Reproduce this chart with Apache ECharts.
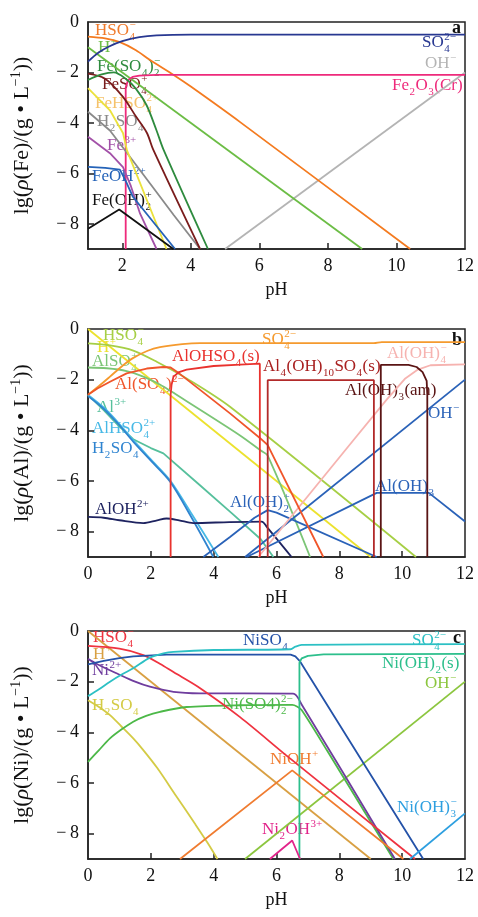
<!DOCTYPE html>
<html>
<head>
<meta charset="UTF-8">
<script src="https://cdn.jsdelivr.net/npm/echarts@6.0.0/dist/echarts.min.js"></script>
<style>
  html, body { margin: 0; background: #fff; }
  #chart { width: 478px; height: 917px; }
</style>
</head>
<body>
<div id="chart"></div>
<script>
// ---- panel a : Fe ----
const aSO4 = [[1,-1.57],[1.3,-1.22],[1.6,-0.98],[2,-0.76],[2.5,-0.6],[3,-0.53],[4,-0.5],[12,-0.5]];
const aHSO4 = [[1,-0.58],[1.5,-0.65],[1.93,-0.8],[2.4,-1.12],[2.8,-1.5],[3.5,-2.1],[4,-2.56],[5.43,-3.96],[10.4,-9]];
const aH = [[1,-1],[9,-9]];
const aOH = [[5,-9],[12,-2]];
const aFe2O3 = [[2.1,-9],[2.1,-2.6],[2.17,-2.3],[2.3,-2.18],[2.5,-2.13],[3,-2.1],[12,-2.1]];
const aFeSO42 = [[1,-2.3],[1.4,-2.08],[1.75,-2.0],[2.1,-2.25],[2.4,-2.65],[2.71,-3.3],[3.0,-4.3],[3.2,-5.05],[4.5,-9]];
const aFeSO4 = [[1,-2.05],[1.5,-2.25],[2.02,-2.97],[2.4,-3.75],[2.72,-4.4],[2.9,-5.05],[4.27,-9]];
const aFeHSO4 = [[1,-2.62],[1.64,-3.5],[2.02,-4.4],[2.14,-5.1],[3.29,-9]];
const aH2SO4 = [[1,-3.56],[1.64,-4.3],[2.2,-5.3],[2.81,-6.4],[3.5,-7.65],[4.27,-9]];
const aFe3 = [[1,-4.55],[1.64,-5.2],[2.02,-5.75],[2.25,-6.5],[2.52,-7.6],[3.0,-9]];
const aFeOH = [[1,-5.74],[1.5,-5.78],[1.93,-5.85],[2.1,-6.3],[2.31,-6.93],[3.54,-9]];
const aFeOH2 = [[1,-8.2],[1.91,-7.43],[3.49,-9]];

// ---- panel b : Al ----
const bSO4 = [[0,-2.6],[0.35,-2.25],[0.7,-1.88],[1.1,-1.45],[1.43,-1.15],[1.9,-0.86],[2.29,-0.72],[3,-0.6],[3.57,-0.56],[9.1,-0.56],[9.35,-0.52],[12,-0.52]];
const bHSO4 = [[0,-0.57],[0.7,-0.65],[1.44,-0.85],[2.2,-1.3],[3.14,-1.95],[4.52,-3.07],[10.44,-9]];
const bH = [[0,0],[9,-9]];
const bAlSO4 = [[0,-1.52],[0.6,-1.55],[1.23,-1.66],[1.8,-1.9],[2.3,-2.2],[2.63,-2.45],[4.84,-4.2],[5.5,-4.8],[5.72,-5.0],[7.07,-9]];
const bAlSO42 = [[0,-2.6],[0.3,-2.35],[0.7,-2.08],[1.23,-1.75],[1.87,-1.56],[2.4,-1.5],[2.63,-1.52],[2.9,-1.75],[4.52,-3.33],[5.47,-4.3],[5.72,-4.58],[7.49,-9]];
const bAlOHSO4s = [[2.63,-9],[2.63,-2.6],[2.66,-2.2],[2.72,-1.88],[2.9,-1.7],[3.14,-1.6],[4.0,-1.46],[4.84,-1.41],[5.47,-1.37],[5.47,-9]];
const bAl4s = [[5.72,-9],[5.72,-2.02],[9.1,-2.02],[9.1,-9]];
const bAlOH3am = [[9.32,-9],[9.32,-1.42],[10.2,-1.42],[10.46,-1.5],[10.65,-1.7],[10.78,-2.05],[10.8,-2.6],[10.8,-9]];
const bAlOH4 = [[5.42,-9],[8.44,-4.4],[9.5,-2.8],[10.1,-1.95],[10.5,-1.6],[10.9,-1.43],[12,-1.4]];
const bOH = [[5,-9],[12,-2]];
const bAlOH3 = [[5.05,-9],[9.19,-6.47],[10.85,-6.47],[12,-7.6]];
const bAlOH2 = [[3.67,-9],[4.52,-8.21],[5.3,-7.45],[5.72,-7.15],[6.0,-7.25],[9.19,-9]];
const bAlOH = [[0,-7.42],[0.5,-7.45],[1.0,-7.55],[1.76,-7.66],[2.2,-7.55],[2.5,-7.48],[2.9,-7.55],[3.35,-7.66],[4.5,-7.62],[5.53,-7.6],[5.69,-7.81],[6.48,-9]];
const bAl3 = [[0,-2.6],[0.5,-3.2],[1.0,-3.85],[1.44,-4.35],[2.0,-4.7],[2.4,-4.91],[3.5,-6.1],[4.6,-7.3],[5.5,-8.3],[5.9,-9]];
const bAlHSO4 = [[0,-2.6],[0.5,-3.1],[1.0,-3.75],[1.44,-4.39],[2.0,-5.15],[2.61,-5.97],[3.3,-7.3],[4.15,-9]];
const bH2SO4 = [[0,-2.65],[0.5,-3.15],[1.0,-3.8],[1.44,-4.45],[2.0,-5.2],[2.61,-6.02],[3.3,-7.45],[3.99,-9]];

// ---- panel c : Ni ----
const cHSO4 = [[0,-0.59],[1,-0.7],[1.76,-0.95],[2.3,-1.3],[2.72,-1.62],[3.5,-2.2],[4.84,-3.4],[6.4,-5.0],[10.41,-9]];
const cH = [[0,0],[9,-9]];
const cNi = [[0,-1.1],[0.28,-1.3],[0.91,-1.67],[1.5,-2.0],[1.97,-2.2],[2.72,-2.4],[3.57,-2.46],[6.53,-2.47],[6.8,-2.9],[9.77,-9]];
const cNiSO4 = [[0,-1.32],[0.5,-1.18],[1.0,-1.07],[1.44,-1.0],[2.5,-0.93],[6.45,-0.93],[6.6,-1.0],[6.75,-1.2],[10.67,-9]];
const cSO4 = [[0,-2.57],[0.35,-2.3],[0.7,-2.0],[1.1,-1.7],[1.44,-1.47],[1.97,-1.05],[2.4,-0.88],[2.72,-0.82],[4,-0.75],[6.45,-0.72],[6.6,-0.62],[6.8,-0.55],[12,-0.52]];
const cNiOH2s = [[6.73,-9],[6.73,-1.25],[6.8,-1.08],[7.0,-0.98],[7.5,-0.92],[12,-0.9]];
const cNiSO42 = [[0,-5.17],[0.35,-4.7],[0.7,-4.24],[1.05,-3.9],[1.44,-3.58],[1.85,-3.35],[2.29,-3.19],[3.14,-3.0],[4.84,-2.93],[6.5,-2.92],[6.65,-2.98],[6.8,-3.12],[7.6,-4.7],[9.72,-9]];
const cH2SO4 = [[0,-2.73],[0.35,-3.0],[0.7,-3.32],[1.05,-3.75],[1.44,-4.24],[1.76,-4.7],[2.2,-5.4],[2.8,-6.5],[3.4,-7.6],[3.8,-8.35],[4.12,-9]];
const cOH = [[5,-9],[12,-2]];
const cNiOH = [[2.93,-9],[6.5,-5.5],[10.04,-9]];
const cNi2OH = [[5.79,-9],[6.5,-8.27],[6.75,-9]];
const cNiOH3 = [[10.25,-9],[12,-7.2]];

const xLabelsA = [2, 4, 6, 8, 10, 12];
const xLabelsBC = [0, 2, 4, 6, 8, 10, 12];
const xTicks = [2, 4, 6, 8, 10];
const yLabels = [-8, -6, -4, -2, 0];
const yTicks = [-8, -6, -4, -2];

const FONT = '"Liberation Serif", "DejaVu Serif", serif';

// [grid, data, colour, smooth]
const lines = [
  [0, aOH, '#b4b4b4', false],
  [0, aH, '#6cbd45', false],
  [0, aHSO4, '#f47b20', true],
  [0, aSO4, '#283891', true],
  [0, aFe2O3, '#ee2a7b', false],
  [0, aH2SO4, '#8a8a8a', false],
  [0, aFeHSO4, '#ebe23c', false],
  [0, aFeSO4, '#7a1c1c', true],
  [0, aFeSO42, '#2e8b3e', true],
  [0, aFe3, '#a351a8', false],
  [0, aFeOH, '#2563b8', false],
  [0, aFeOH2, '#111111', false],

  [1, bH, '#ece22e', false],
  [1, bHSO4, '#a6cf45', true],
  [1, bAlSO4, '#7cc576', true],
  [1, bAl3, '#56c09c', false],
  [1, bAlHSO4, '#47b9e6', true],
  [1, bH2SO4, '#2f84d0', true],
  [1, bAlOH, '#1e2360', true],
  [1, bOH, '#2a62b8', false],
  [1, bAlOH3, '#2a62b8', false],
  [1, bAlOH2, '#2a62b8', false],
  [1, bAlOH4, '#f6b3b0', false],
  [1, bSO4, '#f59a2e', true],
  [1, bAlSO42, '#f0552a', false],
  [1, bAlOHSO4s, '#e9322e', false],
  [1, bAl4s, '#b22a2a', false],
  [1, bAlOH3am, '#5a1414', false],

  [2, cH, '#d9a043', false],
  [2, cOH, '#8cc63f', false],
  [2, cH2SO4, '#d4cb45', true],
  [2, cNiSO42, '#4cb848', true],
  [2, cNi, '#6f3d9e', true],
  [2, cHSO4, '#ef3340', true],
  [2, cNiSO4, '#2452a8', false],
  [2, cSO4, '#2cc0c4', true],
  [2, cNiOH2s, '#2dbf8c', false],
  [2, cNiOH, '#f07c30', false],
  [2, cNi2OH, '#e2248a', false],
  [2, cNiOH3, '#2d9fe0', false]
];

const grids = [
  { left: 88, top: 22, width: 377, height: 227 },
  { left: 88, top: 329, width: 377, height: 228 },
  { left: 88, top: 631, width: 377, height: 228 }
];

function xAxis(g, min, labels) {
  return {
    type: 'value', gridIndex: g, min: min, max: 12,
    name: 'pH', nameLocation: 'middle', nameGap: 32,
    nameTextStyle: { fontFamily: FONT, fontSize: 18, color: '#111' },
    axisLine: { onZero: false, lineStyle: { color: '#222', width: 1.5 } },
    axisTick: { inside: true, length: 6, customValues: xTicks, lineStyle: { color: '#222', width: 1.5 } },
    axisLabel: { fontFamily: FONT, fontSize: 18, color: '#111', margin: 8, customValues: labels },
    splitLine: { show: false }
  };
}

function yAxis(g, el) {
  return {
    type: 'value', gridIndex: g, min: -9, max: 0,
    name: 'lg({i|ρ}(' + el + ')/(g • L{sup|−1}))',
    nameLocation: 'middle', nameRotate: 90, nameGap: 53,
    nameTextStyle: {
      fontFamily: FONT, fontSize: 22, color: '#111', lineHeight: 26,
      rich: {
        i: { fontFamily: FONT, fontSize: 22, fontStyle: 'italic', color: '#111', lineHeight: 26 },
        sup: { fontFamily: FONT, fontSize: 14, color: '#111', lineHeight: 14, verticalAlign: 'top' }
      }
    },
    axisLine: { show: true, onZero: false, lineStyle: { color: '#222', width: 1.5 } },
    axisTick: { show: true, inside: true, length: 6, customValues: yTicks, lineStyle: { color: '#222', width: 1.5 } },
    axisLabel: {
      fontFamily: FONT, fontSize: 18, color: '#111', margin: 9, customValues: yLabels,
      formatter: v => v === 0 ? '0' : '\u2212\u2009' + Math.abs(v)
    },
    splitLine: { show: false }
  };
}

// series labels with stacked sub/superscripts
const mctx = document.createElement('canvas').getContext('2d');
function tw(t, size) {
  mctx.font = size + 'px "Liberation Serif"';
  return mctx.measureText(t).width;
}
function txt(x, y, t, size, color, weight) {
  return {
    type: 'text', x: x, y: y, silent: true,
    style: {
      text: t, fontFamily: 'Liberation Serif', fontSize: size, fontWeight: weight || 'normal',
      fill: color, align: 'left', verticalAlign: 'middle', textAlign: 'left', textVerticalAlign: 'middle'
    }
  };
}
function lab(x, y, parts, color, size) {
  size = size || 17;
  const small = Math.round(size * 0.64);
  const children = [];
  let cx = 0;
  parts.forEach(p => {
    if (typeof p === 'string') {
      children.push(txt(cx, 0, p, size, color));
      cx += tw(p, size);
    } else {
      let w = 0;
      if (p[0]) { children.push(txt(cx + 0.5, size * 0.33, p[0], small, color)); w = Math.max(w, tw(p[0], small)); }
      if (p[1]) { children.push(txt(cx + 0.5, -size * 0.36, p[1], small, color)); w = Math.max(w, tw(p[1], small)); }
      cx += w + 1;
    }
  });
  return { type: 'group', x: x, y: y, children: children, z: 100 };
}

const labels = [
  lab(95, 31, ['HSO', ['4', '−']], '#f07a2a'),
  lab(98, 48, ['H', [null, '+']], '#6cbd45'),
  lab(97, 67, ['Fe(SO', ['4', null], ')', ['2', '−']], '#2e8b3e'),
  lab(102, 85, ['FeSO', ['4', '+']], '#7a1c1c'),
  lab(95, 104, ['FeHSO', ['4', '2+']], '#f5c26b'),
  lab(97, 122, ['H', ['2', null], 'SO', ['4', null]], '#8a8a8a'),
  lab(107, 146, ['Fe', [null, '3+']], '#a351a8'),
  lab(92, 177, ['FeOH', [null, '2+']], '#2563b8'),
  lab(92, 201, ['Fe(OH)', ['2', '+']], '#111111'),
  lab(422, 43, ['SO', ['4', '2−']], '#283891'),
  lab(425, 64, ['OH', [null, '−']], '#b4b4b4'),
  lab(392, 86, ['Fe', ['2', null], 'O', ['3', null], '(Cr)'], '#ee2a7b'),
  txt(452, 28, 'a', 18, '#111', 'bold'),

  lab(103, 336, ['HSO', ['4', '−']], '#a6cf45'),
  lab(97, 348, ['H', [null, '+']], '#ece22e'),
  lab(92, 362, ['AlSO', ['4', '+']], '#7cc576'),
  lab(115, 385, ['Al(SO', ['4', null], ')', [null, '2−']], '#f0552a'),
  lab(172, 357, ['AlOHSO', ['4', null], '(s)'], '#e9322e'),
  lab(262, 340, ['SO', ['4', '2−']], '#f59a2e'),
  lab(263, 367, ['Al', ['4', null], '(OH)', ['10', null], 'SO', ['4', null], '(s)'], '#a82020'),
  lab(387, 354, ['Al(OH)', ['4', '−']], '#f6b3b0'),
  lab(345, 391, ['Al(OH)', ['3', null], '(am)'], '#5a1414'),
  lab(428, 414, ['OH', [null, '−']], '#2a62b8'),
  lab(97, 408, ['Al', [null, '3+']], '#56c09c'),
  lab(92, 429, ['AlHSO', ['4', '2+']], '#47b9e6'),
  lab(92, 449, ['H', ['2', null], 'SO', ['4', null]], '#2f84d0'),
  lab(95, 510, ['AlOH', [null, '2+']], '#1e2360'),
  lab(230, 503, ['Al(OH)', ['2', '+']], '#2a62b8'),
  lab(375, 487, ['Al(OH)', ['3', null]], '#2a62b8'),
  txt(452, 340, 'b', 18, '#111', 'bold'),

  lab(93, 638, ['HSO', ['4', '−']], '#ef3340'),
  lab(93, 655, ['H', [null, '+']], '#d9a043'),
  lab(92, 671, ['Ni', [null, '2+']], '#6f3d9e'),
  lab(92, 706, ['H', ['2', null], 'SO', ['4', null]], '#d4cb45'),
  lab(243, 641, ['NiSO', ['4', null]], '#2452a8'),
  lab(412, 641, ['SO', ['4', '2−']], '#2cc0c4'),
  lab(382, 664, ['Ni(OH)', ['2', null], '(s)'], '#2dbf8c'),
  lab(425, 684, ['OH', [null, '−']], '#8cc63f'),
  lab(222, 705, ['Ni(SO4)', ['2', '2−']], '#4cb848'),
  lab(270, 760, ['NiOH', [null, '+']], '#f07c30'),
  lab(262, 830, ['Ni', ['2', null], 'OH', [null, '3+']], '#e2248a'),
  lab(397, 808, ['Ni(OH)', ['3', '−']], '#2d9fe0'),
  txt(453, 638, 'c', 18, '#111', 'bold')
];

const chart = echarts.init(document.getElementById('chart'), null, { renderer: 'canvas' });
chart.setOption({
  animation: false,
  backgroundColor: '#fff',
  grid: grids.map(g => Object.assign({ show: true, borderColor: '#222', borderWidth: 1.5, backgroundColor: 'transparent' }, g)),
  xAxis: [xAxis(0, 1, xLabelsA), xAxis(1, 0, xLabelsBC), xAxis(2, 0, xLabelsBC)],
  yAxis: [yAxis(0, 'Fe'), yAxis(1, 'Al'), yAxis(2, 'Ni')],
  series: lines.map(([g, d, c, s]) => ({
    type: 'line', xAxisIndex: g, yAxisIndex: g, data: d,
    showSymbol: false, symbol: 'none', silent: true, smooth: s ? 0.3 : false,
    lineStyle: { color: c, width: 1.8 }, itemStyle: { color: c }
  })),
  graphic: labels
});
</script>
</body>
</html>
